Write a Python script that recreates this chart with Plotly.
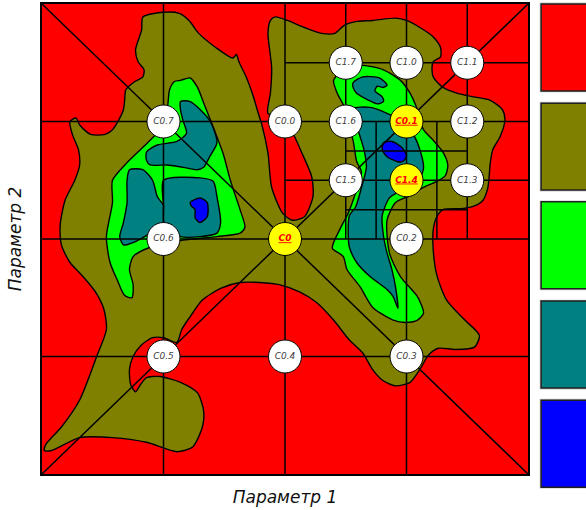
import plotly.graph_objects as go

# Fill colours of the five levels, from lowest (background) to highest
LEVEL_COLORS = ["#ff0000", "#808000", "#00ff00", "#008080", "#0000ff"]

# Level boundaries, (Параметр 1, Параметр 2) pairs
OLIVE_ZONE = [
    (0.83, 3.89), (1.00, 3.93), (1.13, 3.92), (1.21, 3.86), (1.29, 3.75), (1.43, 3.63),
    (1.57, 3.54), (1.60, 3.57), (1.62, 3.51), (1.68, 3.38), (1.74, 3.21), (1.78, 3.07),
    (1.81, 2.97), (1.86, 2.73), (1.89, 2.44), (1.98, 2.22), (2.06, 2.16), (2.16, 2.19),
    (2.23, 2.36), (2.22, 2.53), (2.14, 2.73), (2.08, 2.87), (2.02, 3.00), (1.86, 3.07),
    (1.88, 3.24), (1.89, 3.46), (1.86, 3.75), (1.88, 3.86), (1.92, 3.89), (2.02, 3.86),
    (2.16, 3.80), (2.30, 3.75), (2.41, 3.75), (2.49, 3.82), (2.58, 3.85), (2.72, 3.86),
    (2.91, 3.88), (3.00, 3.86), (3.11, 3.80), (3.22, 3.72), (3.28, 3.63), (3.28, 3.55),
    (3.22, 3.51), (3.21, 3.46), (3.22, 3.38), (3.30, 3.29), (3.42, 3.24), (3.55, 3.21),
    (3.69, 3.18), (3.79, 3.10), (3.81, 3.01), (3.77, 2.87), (3.71, 2.76), (3.69, 2.65),
    (3.67, 2.44), (3.63, 2.33), (3.58, 2.29), (3.47, 2.26), (3.30, 2.25), (3.25, 2.19),
    (3.22, 2.08), (3.22, 1.91), (3.25, 1.69), (3.33, 1.48), (3.48, 1.31), (3.60, 1.18),
    (3.56, 1.08), (3.40, 1.06), (3.26, 1.07), (3.18, 1.01), (3.11, 0.89), (3.03, 0.78),
    (2.91, 0.75), (2.80, 0.80), (2.72, 0.89), (2.64, 1.03), (2.53, 1.14), (2.40, 1.31),
    (2.26, 1.46), (2.12, 1.55), (1.96, 1.61), (1.79, 1.63), (1.63, 1.63), (1.47, 1.58),
    (1.32, 1.48), (1.22, 1.34), (1.15, 1.23), (1.11, 1.12), (1.00, 1.16), (0.91, 1.16),
    (0.82, 1.10), (0.75, 1.00), (0.72, 0.89), (0.73, 0.76), (0.77, 0.70), (0.81, 0.76),
    (0.86, 0.82), (0.97, 0.83), (1.14, 0.78), (1.28, 0.69), (1.33, 0.54), (1.32, 0.40),
    (1.24, 0.23), (1.11, 0.19), (0.86, 0.27), (0.58, 0.31), (0.31, 0.31), (0.08, 0.20),
    (0.02, 0.20), (0.03, 0.25), (0.16, 0.40), (0.31, 0.63), (0.45, 1.00), (0.53, 1.23),
    (0.51, 1.40), (0.44, 1.55), (0.33, 1.69), (0.23, 1.80), (0.16, 1.95), (0.15, 2.12),
    (0.19, 2.33), (0.27, 2.50), (0.31, 2.63), (0.30, 2.76), (0.25, 2.89), (0.23, 3.00),
    (0.28, 3.03), (0.31, 2.97), (0.40, 2.89), (0.52, 2.89), (0.58, 2.93), (0.63, 3.01),
    (0.67, 3.10), (0.68, 3.18), (0.69, 3.27), (0.75, 3.33), (0.83, 3.38), (0.84, 3.44),
    (0.79, 3.51), (0.77, 3.61), (0.82, 3.78),
]

GREEN_WEST = [
    (1.14, 3.35), (1.22, 3.37), (1.28, 3.29), (1.33, 3.16), (1.41, 2.95), (1.49, 2.73),
    (1.55, 2.50), (1.63, 2.25), (1.67, 2.10), (1.63, 2.05), (1.44, 2.02), (1.16, 1.99),
    (0.89, 1.93), (0.75, 1.85), (0.72, 1.74), (0.75, 1.61), (0.74, 1.50), (0.68, 1.52),
    (0.62, 1.65), (0.56, 1.80), (0.53, 2.02), (0.58, 2.31), (0.58, 2.50), (0.70, 2.65),
    (0.83, 2.78), (0.97, 2.93), (1.03, 3.10), (1.05, 3.27), (1.09, 3.34),
]

GREEN_EAST = [
    (2.40, 3.35), (2.48, 3.44), (2.62, 3.48), (2.81, 3.44), (2.95, 3.35), (3.03, 3.24),
    (3.09, 3.10), (3.14, 2.93), (3.22, 2.84), (3.30, 2.74), (3.34, 2.63), (3.32, 2.54),
    (3.25, 2.49), (3.14, 2.44), (3.03, 2.37), (2.91, 2.31), (2.84, 2.16), (2.86, 1.88),
    (2.95, 1.68), (3.09, 1.51), (3.14, 1.37), (3.09, 1.31), (3.00, 1.29), (2.89, 1.31),
    (2.72, 1.42), (2.62, 1.59), (2.51, 1.74), (2.48, 1.85), (2.39, 1.92), (2.40, 1.97),
    (2.45, 2.08), (2.49, 2.16), (2.52, 2.22), (2.58, 2.39), (2.63, 2.57), (2.59, 2.66),
    (2.56, 2.84), (2.52, 2.97), (2.49, 3.12), (2.43, 3.24),
]

TEAL_WEST_UPPER = [
    (1.14, 3.17), (1.22, 3.17), (1.38, 3.01), (1.44, 2.82), (1.38, 2.70), (1.33, 2.61),
    (1.28, 2.59), (1.16, 2.61), (1.03, 2.63), (0.89, 2.63), (0.86, 2.67), (0.86, 2.74),
    (0.95, 2.80), (1.11, 2.83), (1.19, 2.90), (1.16, 3.01), (1.14, 3.10),
]

TEAL_WEST_LEFT = [
    (0.72, 2.59), (0.83, 2.59), (0.91, 2.50), (0.95, 2.36), (1.03, 2.25), (1.05, 2.19),
    (1.00, 2.14), (0.89, 2.05), (0.75, 1.97), (0.67, 1.95), (0.64, 2.02), (0.67, 2.14),
    (0.70, 2.31), (0.70, 2.50),
]

TEAL_WEST_CENTER = [
    (1.00, 2.50), (1.30, 2.52), (1.41, 2.49), (1.44, 2.36), (1.47, 2.14), (1.44, 2.05),
    (1.30, 2.02), (1.14, 2.02), (1.01, 2.09), (1.00, 2.29),
]

TEAL_EAST_HOOK = [
    (2.56, 3.33), (2.64, 3.38), (2.78, 3.37), (2.84, 3.31), (2.81, 3.29), (2.76, 3.30),
    (2.74, 3.26), (2.80, 3.21), (2.81, 3.17), (2.76, 3.15), (2.67, 3.19), (2.59, 3.24),
    (2.56, 3.29),
]

TEAL_EAST = [
    (2.56, 3.11), (2.70, 3.12), (2.84, 3.07), (2.95, 3.01), (3.05, 2.90), (3.11, 2.76),
    (3.14, 2.60), (3.09, 2.48), (2.97, 2.42), (2.86, 2.35), (2.80, 2.20), (2.81, 2.03),
    (2.84, 1.88), (2.88, 1.74), (2.91, 1.59), (2.93, 1.41), (2.89, 1.51), (2.84, 1.57),
    (2.70, 1.68), (2.59, 1.80), (2.53, 1.93), (2.52, 2.05), (2.53, 2.20), (2.58, 2.27),
    (2.63, 2.44), (2.67, 2.61), (2.65, 2.76), (2.60, 2.93), (2.57, 3.03),
]

BLUE_WEST = [
    (1.22, 2.31), (1.30, 2.35), (1.36, 2.31), (1.36, 2.19), (1.30, 2.14), (1.26, 2.18),
    (1.26, 2.25), (1.23, 2.28),
]

BLUE_EAST = [
    (2.81, 2.82), (2.88, 2.83), (2.96, 2.78), (3.00, 2.71), (2.97, 2.66), (2.92, 2.66),
    (2.84, 2.70), (2.80, 2.76),
]

# Mesh lines
MAIN_LINES = [1, 2, 3]                 # across the whole field
SUB_LINES = [2.5, 3.5]                 # refined block 2..4 x 2..4
FINE_LINES_X = [2.75, 3.25]            # finest block, x lines over y 2..3
FINE_LINES_Y = [2.25, 2.75]            # finest block, y lines over x 2.5..3.5
DIAGONALS = [((0, 4), (4, 0)), ((0, 0), (4, 4))]

# Design points
NODE_NAMES = ["C0", "C0.0", "C0.1", "C0.2", "C0.3", "C0.4", "C0.5", "C0.6", "C0.7",
              "C1.0", "C1.1", "C1.2", "C1.3", "C1.4", "C1.5", "C1.6", "C1.7"]
NODE_X = [2, 2, 3, 3, 3, 2, 1, 1, 1, 3, 3.5, 3.5, 3.5, 3, 2.5, 2.5, 2.5]
NODE_Y = [2, 3, 3, 2, 1, 1, 1, 2, 3, 3.5, 3.5, 3, 2.5, 2.5, 2.5, 3, 3.5]
NODE_BEST = ["C0", "C0.1", "C1.4"]

fig = go.Figure()


def add_zone(points, color):
    xs = [p[0] for p in points] + [points[0][0]]
    ys = [p[1] for p in points] + [points[0][1]]
    fig.add_trace(go.Scatter(
        x=xs, y=ys, mode="lines", fill="toself", fillcolor=color,
        line=dict(color="black", width=1.4, shape="spline", smoothing=0.7),
        hoverinfo="skip", showlegend=False))


add_zone(OLIVE_ZONE, LEVEL_COLORS[1])
add_zone(GREEN_WEST, LEVEL_COLORS[2])
add_zone(GREEN_EAST, LEVEL_COLORS[2])
add_zone(TEAL_WEST_UPPER, LEVEL_COLORS[3])
add_zone(TEAL_WEST_LEFT, LEVEL_COLORS[3])
add_zone(TEAL_WEST_CENTER, LEVEL_COLORS[3])
add_zone(TEAL_EAST_HOOK, LEVEL_COLORS[3])
add_zone(TEAL_EAST, LEVEL_COLORS[3])
add_zone(BLUE_WEST, LEVEL_COLORS[4])
add_zone(BLUE_EAST, LEVEL_COLORS[4])

# mesh segments
lx, ly = [], []
for v in MAIN_LINES:
    lx += [v, v, None, 0, 4, None]
    ly += [0, 4, None, v, v, None]
for v in SUB_LINES:
    lx += [v, v, None, 2, 4, None]
    ly += [2, 4, None, v, v, None]
for v in FINE_LINES_X:
    lx += [v, v, None]
    ly += [2, 3, None]
for v in FINE_LINES_Y:
    lx += [2.5, 3.5, None]
    ly += [v, v, None]
for (a, b) in DIAGONALS:
    lx += [a[0], b[0], None]
    ly += [a[1], b[1], None]
fig.add_trace(go.Scatter(x=lx, y=ly, mode="lines",
                         line=dict(color="black", width=1.5),
                         hoverinfo="skip", showlegend=False))

# design points
fill = ["#ffff00" if n in NODE_BEST else "white" for n in NODE_NAMES]
labels = [f"<b><u>{n}</u></b>" if n in NODE_BEST else n for n in NODE_NAMES]
tcolor = ["#ff0000" if n in NODE_BEST else "#404040" for n in NODE_NAMES]
fig.add_trace(go.Scatter(
    x=NODE_X, y=NODE_Y, mode="markers+text", text=labels,
    textposition="middle center",
    textfont=dict(family="DejaVu Sans", size=9, color=tcolor, style="italic"),
    marker=dict(size=33, color=fill, line=dict(color="black", width=1)),
    hoverinfo="skip", showlegend=False))

# colour key on the right
shapes = []
key_tops = [1.0, 0.789, 0.579, 0.368, 0.157]
key_h = 0.185
for top, col in zip(key_tops, LEVEL_COLORS):
    shapes.append(dict(type="rect", xref="paper", yref="paper",
                       x0=1.024, x1=1.2, y0=top - key_h - 0.003, y1=top + 0.003,
                       line=dict(width=0), fillcolor="#c8c8c8", layer="above"))
    shapes.append(dict(type="rect", xref="paper", yref="paper",
                       x0=1.027, x1=1.2, y0=top - key_h, y1=top,
                       line=dict(color="#202020", width=1.5), fillcolor=col,
                       layer="above"))

fig.update_layout(
    width=586, height=510,
    margin=dict(l=42, r=58, t=4, b=36),
    paper_bgcolor="white", plot_bgcolor=LEVEL_COLORS[0],
    shapes=shapes,
    xaxis=dict(range=[0, 4], showticklabels=False, ticks="", showgrid=False,
               zeroline=False, showline=True, mirror=True, linecolor="black",
               linewidth=2, automargin=False,
               title=dict(text="<i>Параметр 1</i>", standoff=16,
                          font=dict(family="DejaVu Sans", size=17, color="#111111"))),
    yaxis=dict(range=[0, 4], showticklabels=False, ticks="", showgrid=False,
               zeroline=False, showline=True, mirror=True, linecolor="black",
               linewidth=2, automargin=False,
               title=dict(text="<i>Параметр 2</i>", standoff=14,
                          font=dict(family="DejaVu Sans", size=17, color="#111111"))),
)

fig.write_html("out.html")
